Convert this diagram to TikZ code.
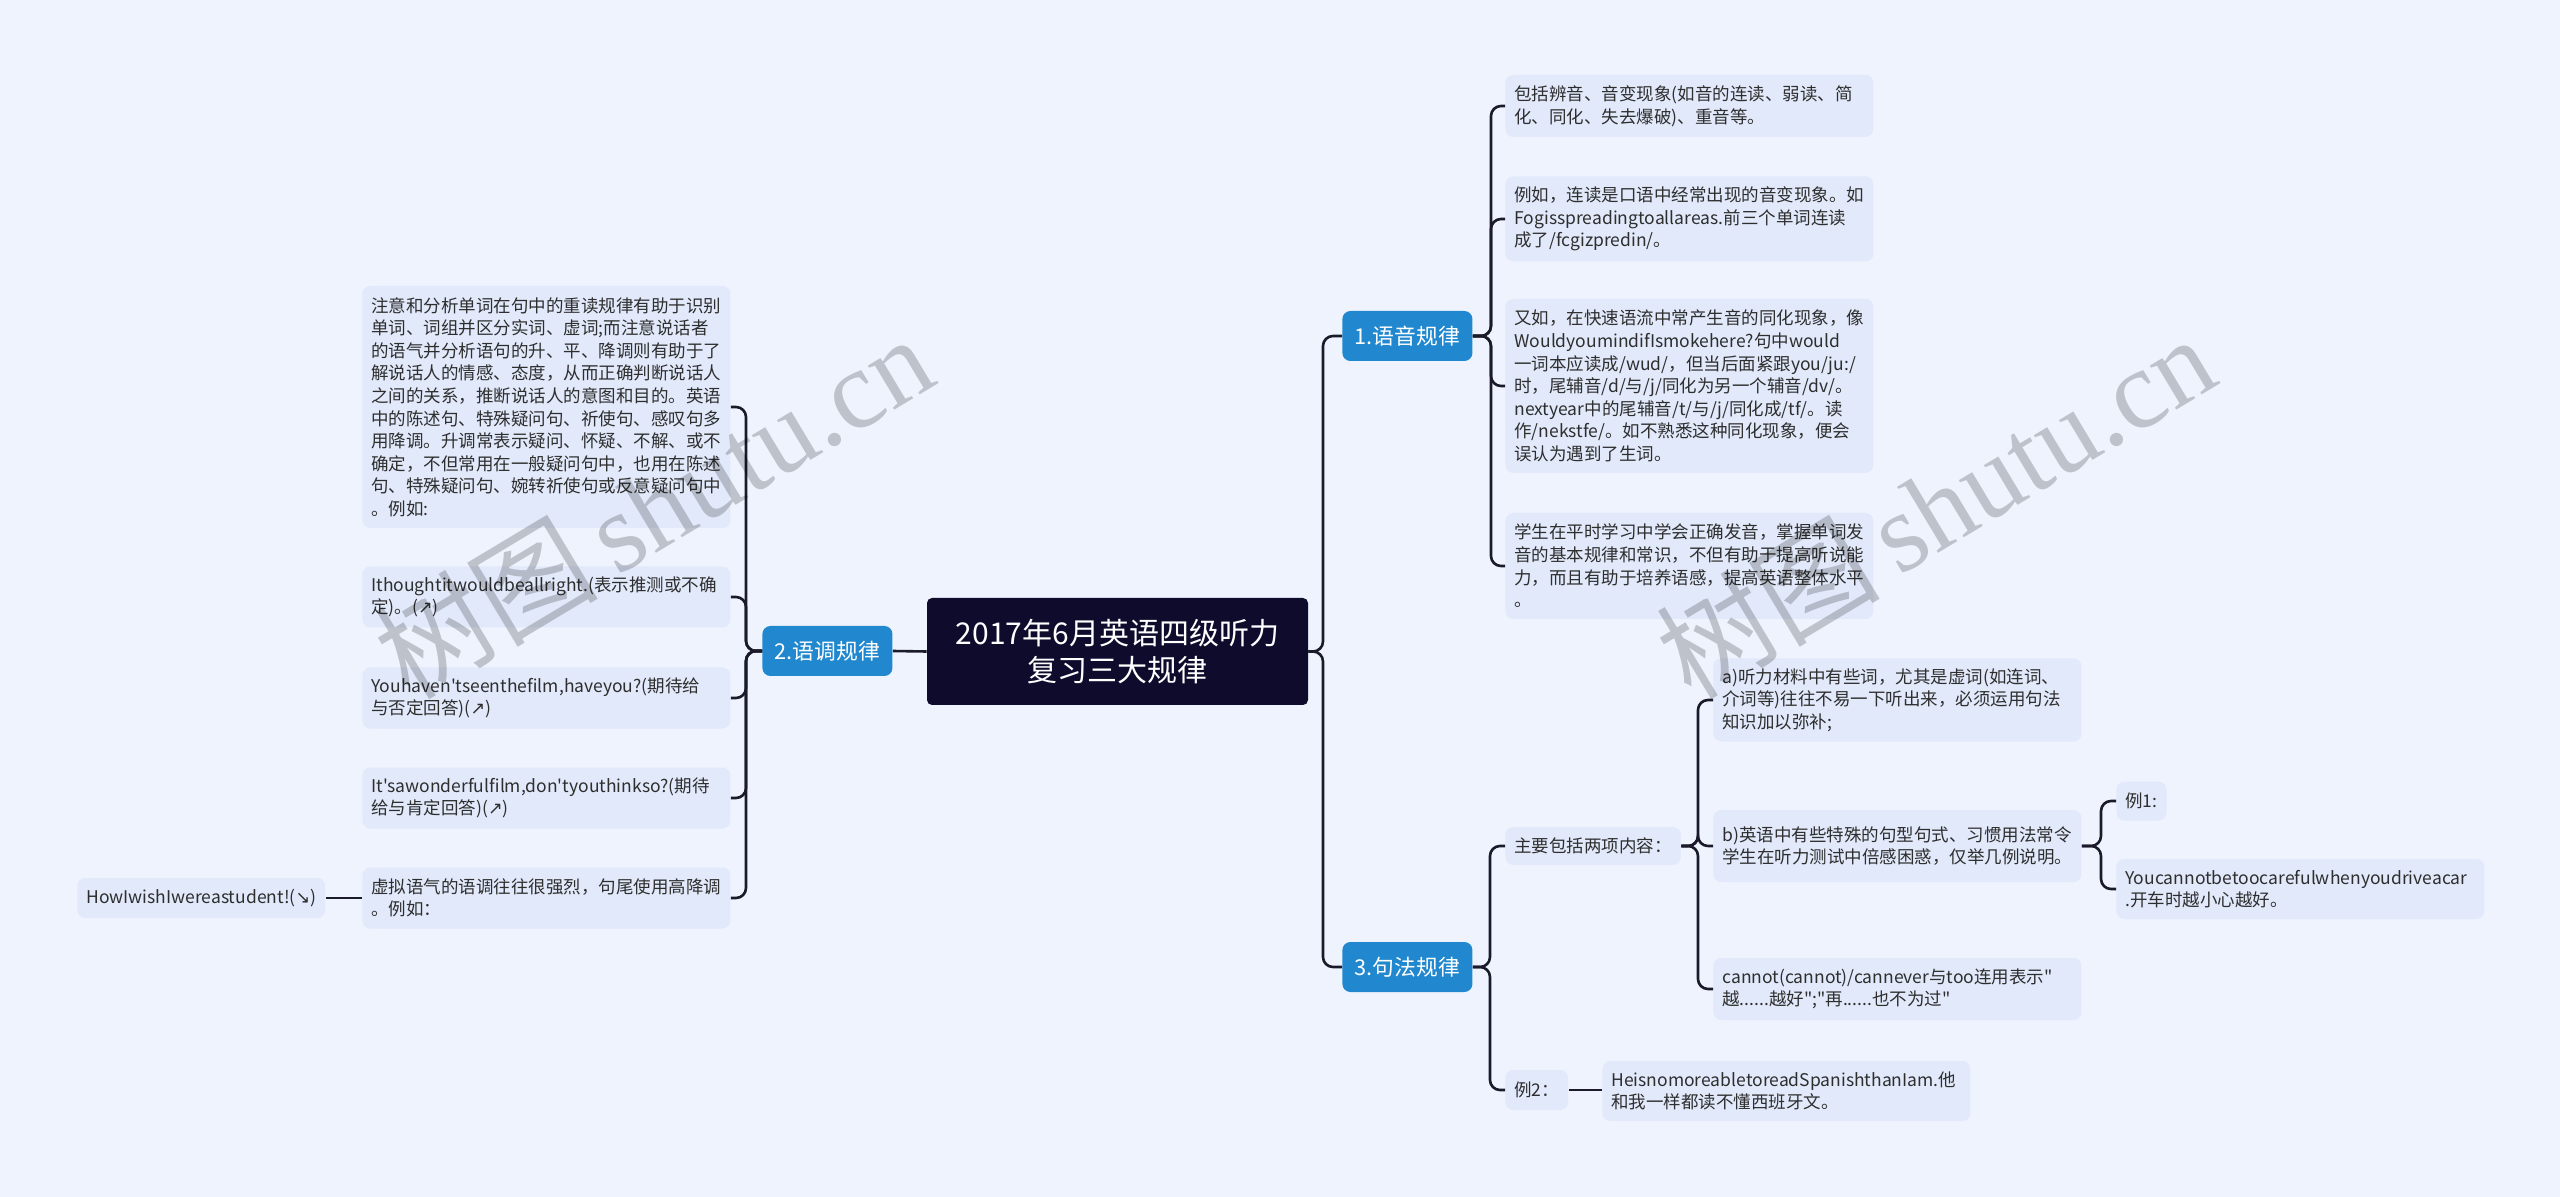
\documentclass[tikz,border=0pt]{standalone}
\usepackage{fontspec}
\newfontfamily\cjk{Noto Sans CJK SC}
\newfontfamily\wmlat{Liberation Serif}
\newfontfamily\arrfont{DejaVu Sans}
\usetikzlibrary{calc}
\definecolor{bgc}{HTML}{EEF3FE}
\definecolor{leafc}{HTML}{E1E9FA}
\definecolor{bluec}{HTML}{2188CF}
\definecolor{rootc}{HTML}{0E0B2D}
\definecolor{linec}{HTML}{1A1A2A}
\definecolor{txtc}{HTML}{2E2E2E}
\hyphenpenalty=10000
\exhyphenpenalty=10000
\newcommand\upar{{\arrfont ↗}}
\newcommand\dnar{{\arrfont ↘}}
\tikzset{
  leaf/.style={fill=leafc, rounded corners=4pt, align=left, anchor=west,
    inner xsep=4.5pt, inner ysep=2pt, text=txtc,
    font=\cjk\fontsize{8.75pt}{11.3pt}\selectfont},
  wleaf/.style={leaf, text width=175pt},
  branch/.style={fill=bluec, rounded corners=4pt, text=white, anchor=west,
    minimum width=65pt, minimum height=25pt, inner xsep=4pt,
    font=\cjk\fontsize{10.9pt}{13pt}\selectfont},
  rootbox/.style={fill=rootc, rounded corners=2.5pt, text=white, align=center,
    minimum width=190.5pt, minimum height=53.5pt,
    font=\cjk\fontsize{15pt}{18.5pt}\selectfont},
  conn/.style={draw=linec, line width=1.3pt, rounded corners=5pt},
  wmark/.style={rotate=31, text=black, opacity=0.2,
    font=\cjk\fontsize{56pt}{60pt}\selectfont}
}
\begin{document}
\begin{tikzpicture}[x=0.5pt,y=-0.5pt]
\path[use as bounding box, fill=bgc] (0,0) rectangle (2560,1197);

% root and branches
\node[rootbox] (root) at (1117.5,651.5) {2017年6月英语四级听力\\复习三大规律};
\node[branch] (b1) at (1342,336) {1.语音规律};
\node[branch] (b2) at (762,651) {2.语调规律};
\node[branch] (b3) at (1342,967) {3.句法规律};

% trunk coordinates
\coordinate (t0) at (1323,0);
\coordinate (t1) at (1491,0);
\coordinate (t2) at (746,0);
\coordinate (t3) at (1490,0);
\coordinate (tm) at (1698,0);
\coordinate (tb) at (2101,0);

% left leaves
\node[wleaf, minimum height=121pt] (l1) at (362,407) {注意和分析单词在句中的重读规律有助于识别\\单词、词组并区分实词、虚词;而注意说话者\\的语气并分析语句的升、平、降调则有助于了\\解说话人的情感、态度，从而正确判断说话人\\之间的关系，推断说话人的意图和目的。英语\\中的陈述句、特殊疑问句、祈使句、感叹句多\\用降调。升调常表示疑问、怀疑、不解、或不\\确定，不但常用在一般疑问句中，也用在陈述\\句、特殊疑问句、婉转祈使句或反意疑问句中\\。例如:};
\node[wleaf, minimum height=30.5pt] (l2) at (362,597) {Ithoughtitwouldbeallright.(表示推测或不确\\定)。(\upar)};
\node[wleaf, minimum height=30.5pt] (l3) at (362,698) {Youhaven'tseenthefilm,haveyou?(期待给\\与否定回答)(\upar)};
\node[wleaf, minimum height=30.5pt] (l4) at (362,798) {It'sawonderfulfilm,don'tyouthinkso?(期待\\给与肯定回答)(\upar)};
\node[wleaf, minimum height=30.5pt] (l5) at (362,898) {虚拟语气的语调往往很强烈，句尾使用高降调\\。例如：};
\node[leaf, minimum height=20pt] (l5a) at (77,898) {HowIwishIwereastudent!(\dnar)};

% right leaves of 1
\node[wleaf, minimum height=31pt] (r1) at (1505,106) {包括辨音、音变现象(如音的连读、弱读、简\\化、同化、失去爆破)、重音等。};
\node[wleaf, minimum height=42.5pt] (r2) at (1505,219) {例如，连读是口语中经常出现的音变现象。如\\Fogisspreadingtoallareas.前三个单词连读\\成了/fcgizpredin/。};
\node[wleaf, minimum height=87pt] (r3) at (1505,386) {又如，在快速语流中常产生音的同化现象，像\\WouldyoumindifIsmokehere?句中would\\一词本应读成/wud/，但当后面紧跟you/ju:/\\时，尾辅音/d/与/j/同化为另一个辅音/dv/。\\nextyear中的尾辅音/t/与/j/同化成/tf/。读\\作/nekstfe/。如不熟悉这种同化现象，便会\\误认为遇到了生词。};
\node[wleaf, minimum height=53pt] (r4) at (1505,566) {学生在平时学习中学会正确发音，掌握单词发\\音的基本规律和常识，不但有助于提高听说能\\力，而且有助于培养语感，提高英语整体水平\\。};

% leaves of 3
\node[leaf, minimum height=19pt] (s1) at (1505,846) {主要包括两项内容：};
\node[leaf, minimum height=20pt] (s2) at (1505,1090) {例2：};
\node[wleaf, minimum height=30pt] (s2a) at (1602,1091) {HeisnomoreabletoreadSpanishthanIam.他\\和我一样都读不懂西班牙文。};
\node[wleaf, minimum height=41.5pt] (sa) at (1713,700) {a)听力材料中有些词，尤其是虚词(如连词、\\介词等)往往不易一下听出来，必须运用句法\\知识加以弥补;};
\node[wleaf, minimum height=36pt] (sb) at (1713,846) {b)英语中有些特殊的句型句式、习惯用法常令\\学生在听力测试中倍感困惑，仅举几例说明。};
\node[wleaf, minimum height=31pt] (sc) at (1713,989) {cannot(cannot)/cannever与too连用表示"\\越......越好";"再......也不为过"};
\node[leaf, minimum height=19.5pt] (e1) at (2116,801) {例1:};
\node[wleaf, minimum height=30pt] (e2) at (2116,889) {Youcannotbetoocarefulwhenyoudriveacar\\.开车时越小心越好。};

% connectors
\draw[conn] (root.west) -- (b2.east);
\foreach \c in {b1,b3}
  \draw[conn] (root.east) -- (root.east -| t0) |- (\c.west);
\foreach \c in {l1,l2,l3,l4,l5}
  \draw[conn] (b2.west) -- (b2.west -| t2) |- (\c.east);
\draw[conn] (l5.west) -- (l5a.east);
\foreach \c in {r1,r2,r3,r4}
  \draw[conn] (b1.east) -- (b1.east -| t1) |- (\c.west);
\foreach \c in {s1,s2}
  \draw[conn] (b3.east) -- (b3.east -| t3) |- (\c.west);
\draw[conn] (s2.east) -- (s2a.west |- s2.east);
\foreach \c in {sa,sb,sc}
  \draw[conn] (s1.east) -- (s1.east -| tm) |- (\c.west);
\foreach \c in {e1,e2}
  \draw[conn] (sb.east) -- (sb.east -| tb) |- (\c.west);

% watermarks
\node[wmark] (wm1) at (653,506) {树图\,{\wmlat shutu.cn}};
\node[wmark] (wm2) at (1935,506) {树图\,{\wmlat shutu.cn}};
\end{tikzpicture}
\end{document}
